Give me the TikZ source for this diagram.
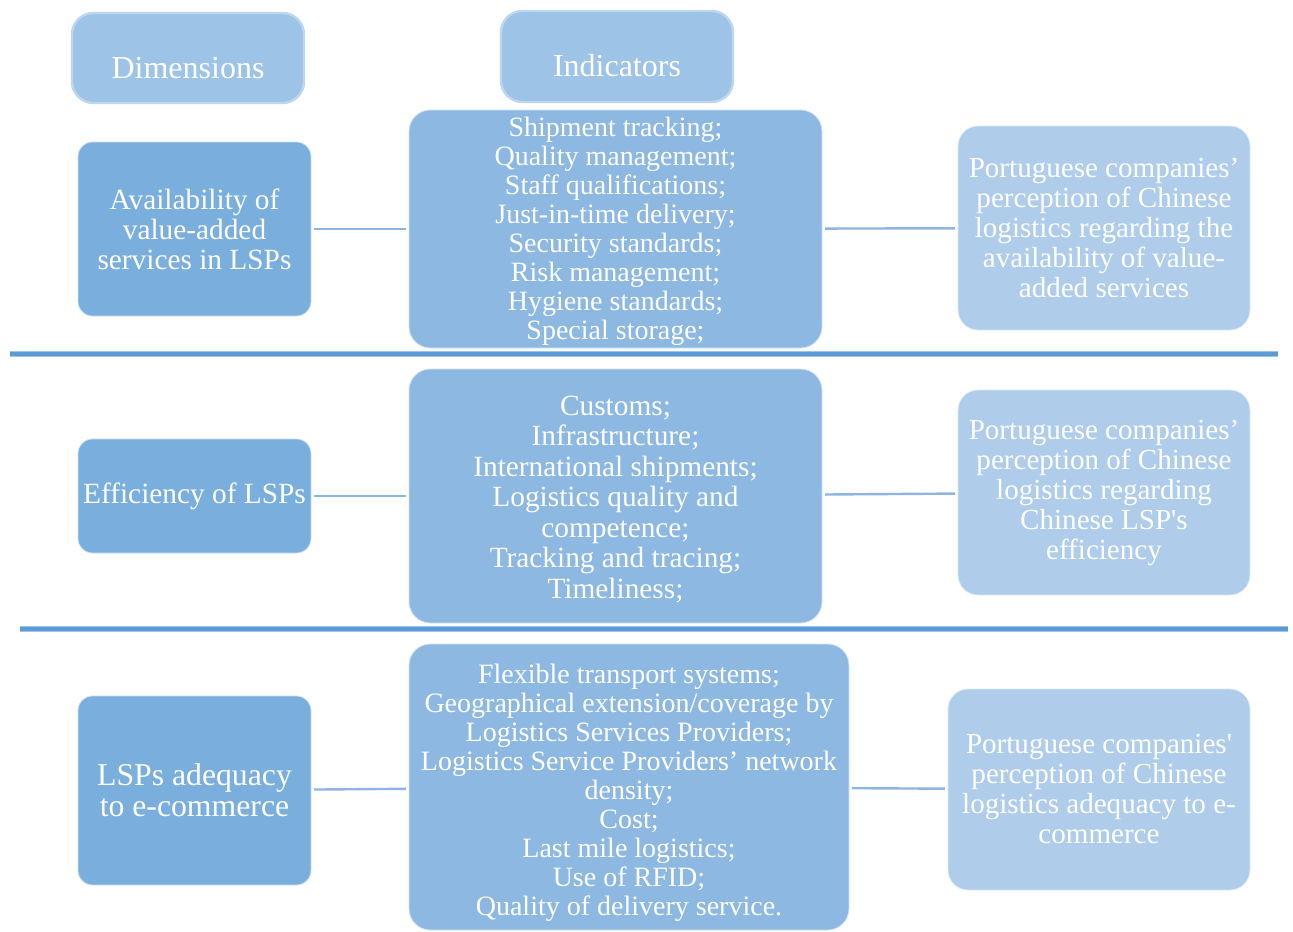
\documentclass[tikz,border=0pt]{standalone}
\usepackage{fontspec,tikz}
\setmainfont{Liberation Serif}
\usetikzlibrary{positioning,calc}
\definecolor{head}{HTML}{9DC3E6}
\definecolor{headline}{HTML}{BDD7EE}
\definecolor{dim}{HTML}{7AAEDD}
\definecolor{ind}{HTML}{8DB8E2}
\definecolor{perc}{HTML}{AFCDEA}
\definecolor{sep}{HTML}{5B9BD5}
\definecolor{link}{HTML}{8EB4E3}
\tikzset{headbox/.style={draw=headline,line width=1.8pt,fill=head,rounded corners=16pt,align=center,inner sep=0pt,minimum width=174pt,text=white,font=\fontsize{24}{26}\selectfont},
dimbox/.style={draw=white!60!dim,line width=0.6pt,fill=dim,rounded corners=11pt,align=center,inner sep=0pt,minimum width=174.75pt,text=white,font=\fontsize{22}{22.5}\selectfont},
indbox/.style={draw=white!60!ind,line width=0.6pt,fill=ind,rounded corners=16pt,align=center,inner sep=0pt,minimum width=309.75pt,text=white,font=\fontsize{21}{21.75}\selectfont},
percbox/.style={draw=white!60!perc,line width=0.6pt,fill=perc,rounded corners=15pt,align=center,inner sep=0pt,minimum width=219pt,text=white,font=\fontsize{21.8}{22.5}\selectfont},
linkline/.style={draw=link,line width=1.8pt,shorten <=2pt,shorten >=2pt},
sepline/.style={line width=5pt,draw=head}}

\begin{document}
\begin{tikzpicture}[x=0.75pt,y=-0.75pt]
\useasboundingbox (0,0) rectangle (1293,932);
% headers
\node[headbox,minimum height=67.5pt] (hdim) at (188,58) {\raisebox{-7.5pt}[\height][\depth]{Dimensions}};
\node[headbox,minimum height=68.25pt] (hind) at (617,56.5) {\raisebox{-7pt}[\height][\depth]{Indicators}};
% row 1
\node[dimbox,minimum height=130.5pt] (l1) at (194.5,229) {Availability of\\value-added\\services in LSPs};
\node[indbox,minimum height=178.5pt] (m1) at (615.5,229) {\rule{0pt}{17.3pt}Shipment tracking;\\Quality management;\\Staff qualifications;\\Just-in-time delivery;\\Security standards;\\Risk management;\\Hygiene standards;\\Special storage;};
\node[percbox,minimum height=153pt] (r1) at (1104,228) {Portuguese companies’\\perception of Chinese\\logistics regarding the\\availability of value-\\added services};
\draw[linkline](l1)--(m1);\draw[linkline](m1)--(r1);
\coordinate (s1a) at (10,354);\coordinate (s1b) at (1278,354);
\draw[sepline](s1a)--(s1b);\draw[line width=3pt,sep](s1a)--(s1b);
% row 2
\node[dimbox,minimum height=85.5pt] (l2) at (194.5,496) {Efficiency of LSPs};
\node[indbox,minimum height=190.5pt,font=\fontsize{22}{22.9}\selectfont] (m2) at (615.5,496) {\rule{0pt}{19.5pt}Customs;\\Infrastructure;\\International shipments;\\Logistics quality and\\competence;\\Tracking and tracing;\\Timeliness;};
\node[percbox,minimum height=153.75pt] (r2) at (1104,492.5) {Portuguese companies’\\perception of Chinese\\logistics regarding\\Chinese LSP\textquotesingle s\\efficiency};
\draw[linkline](l2)--(m2);\draw[linkline](m2)--(r2);
\coordinate (s2a) at (20,629);\coordinate (s2b) at (1288,629);
\draw[sepline](s2a)--(s2b);\draw[line width=3pt,sep](s2a)--(s2b);
% row 3
\node[dimbox,minimum height=141.75pt,font=\fontsize{23.8}{23.25}\selectfont] (l3) at (194.5,790.5) {LSPs adequacy\\to e-commerce};
\node[indbox,minimum width=330pt,minimum height=214.5pt] (m3) at (629,787) {\rule{0pt}{23pt}Flexible transport systems;\\Geographical extension/coverage by\\Logistics Services Providers;\\Logistics Service Providers’ network\\density;\\Cost;\\Last mile logistics;\\Use of RFID;\\Quality of delivery service.};
\node[percbox,minimum width=226.5pt,minimum height=150.75pt] (r3) at (1099,789.5) {Portuguese companies\textquotesingle\\perception of Chinese\\logistics adequacy to e-\\commerce};
\draw[linkline](l3)--(m3);\draw[linkline](m3)--(r3);
\end{tikzpicture}
\end{document}
